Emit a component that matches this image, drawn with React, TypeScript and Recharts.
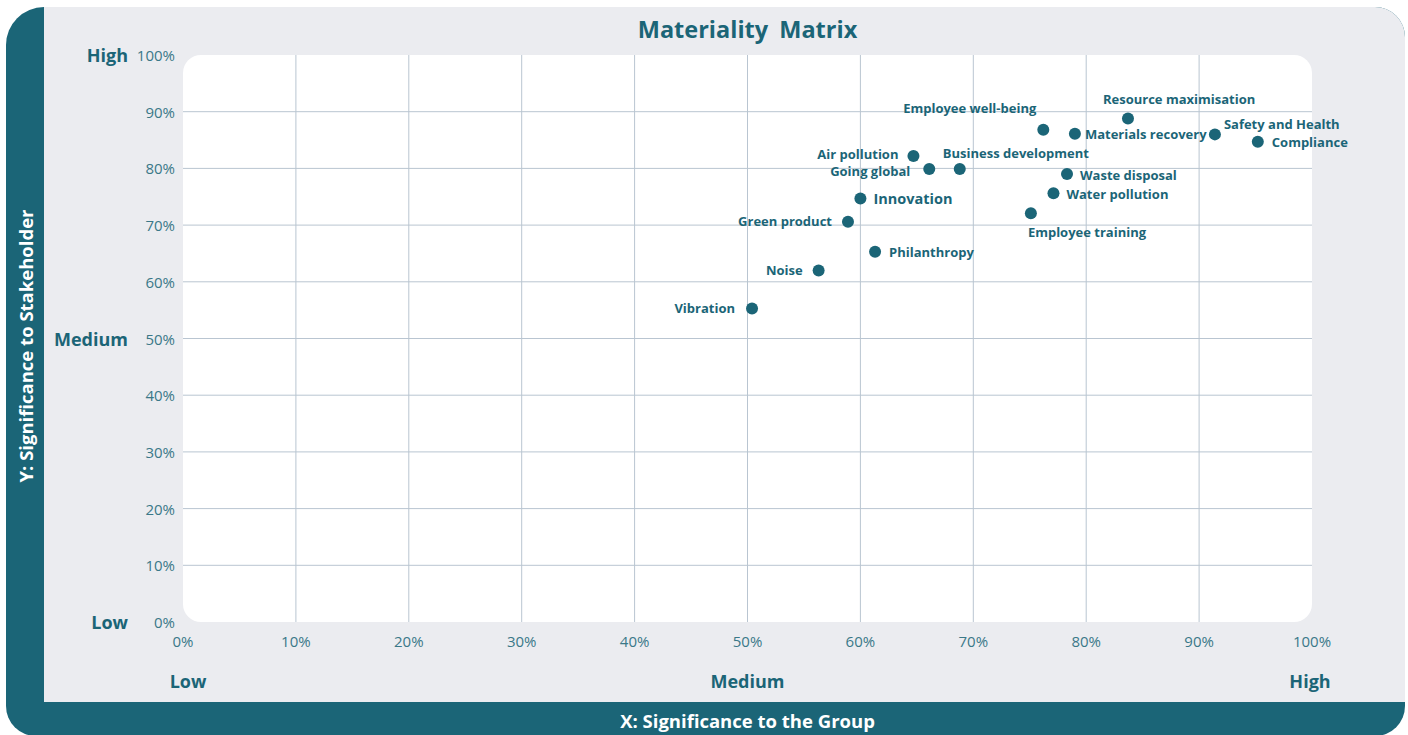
import React from "react";
import { ScatterChart, Scatter, XAxis, YAxis, ReferenceLine } from "recharts";

// ---------- data ----------
const topics = [
  "Employee well-being",
  "Resource maximisation",
  "Materials recovery",
  "Safety and Health",
  "Compliance",
  "Air pollution",
  "Going global",
  "Business development",
  "Innovation",
  "Green product",
  "Philanthropy",
  "Noise",
  "Vibration",
  "Employee training",
  "Waste disposal",
  "Water pollution",
];
const groupSignificance = [76.2, 83.7, 79.0, 91.4, 95.2, 64.7, 66.1, 68.8, 60.0, 58.9, 61.3, 56.3, 50.4, 75.1, 78.3, 77.1];
const stakeholderSignificance = [86.8, 88.8, 86.1, 86.0, 84.7, 82.2, 79.9, 79.9, 74.7, 70.6, 65.3, 62.0, 55.3, 72.1, 79.0, 75.6];
const axisTicks = [0, 10, 20, 30, 40, 50, 60, 70, 80, 90, 100];
const gridTicks = [10, 20, 30, 40, 50, 60, 70, 80, 90];
const levelLabels: Record<number, string> = { 0: "Low", 50: "Medium", 100: "High" };

// ---------- label placement (styling, not data) ----------
const placement: Record<string, { dx: number; dy: number; anchor: "start" | "end"; size?: number }> = {
  "Employee well-being": { dx: -7, dy: -22, anchor: "end" },
  "Resource maximisation": { dx: -25, dy: -20, anchor: "start" },
  "Materials recovery": { dx: 10, dy: 0, anchor: "start" },
  "Safety and Health": { dx: 9, dy: -10, anchor: "start" },
  Compliance: { dx: 14, dy: 0, anchor: "start" },
  "Air pollution": { dx: -15, dy: -2, anchor: "end" },
  "Going global": { dx: -19, dy: 2, anchor: "end" },
  "Business development": { dx: -17, dy: -16, anchor: "start" },
  Innovation: { dx: 13, dy: 0, anchor: "start", size: 14.5 },
  "Green product": { dx: -16, dy: -1, anchor: "end" },
  Philanthropy: { dx: 14, dy: 0, anchor: "start" },
  Noise: { dx: -16, dy: 0, anchor: "end" },
  Vibration: { dx: -17, dy: 0, anchor: "end" },
  "Employee training": { dx: -3, dy: 19, anchor: "start" },
  "Waste disposal": { dx: 13, dy: 1, anchor: "start" },
  "Water pollution": { dx: 13, dy: 1, anchor: "start" },
};

const data = topics.map((name, i) => ({ name, x: groupSignificance[i], y: stakeholderSignificance[i] }));

// ---------- style ----------
const TEAL = "#1b6577";
const TICK = "#3a7888";
const GREY = "#ebecf0";
const GRID = "#b9c5d1";
const FONT = "'Open Sans', 'Noto Sans', sans-serif";

const W = 1408;
const H = 735;
const PL = 183, PR = 1312, PT = 55, PB = 622;

const PointShape = (props: any) => {
  const { cx, cy, payload } = props;
  const p = placement[payload.name] || { dx: 12, dy: 0, anchor: "start" };
  return (
    <g>
      <circle cx={cx} cy={cy} r={6} fill={TEAL} />
      <text
        x={cx + p.dx}
        y={cy + p.dy}
        textAnchor={p.anchor}
        dominantBaseline="central"
        fill={TEAL}
        fontFamily={FONT}
        fontWeight={700}
        fontSize={p.size || 13}
      >
        {payload.name}
      </text>
    </g>
  );
};

const YTick = (props: any) => {
  const { x, y, payload } = props;
  const lvl = levelLabels[payload.value];
  return (
    <g>
      <text x={x} y={y} textAnchor="end" dominantBaseline="central" fill={TICK} fontFamily={FONT} fontSize={15}>
        {payload.value}%
      </text>
      {lvl && (
        <text x={x - 47} y={y} textAnchor="end" dominantBaseline="central" fill={TEAL} fontFamily={FONT} fontWeight={700} fontSize={18}>
          {lvl}
        </text>
      )}
    </g>
  );
};

const XTick = (props: any) => {
  const { x, y, payload } = props;
  const lvl = levelLabels[payload.value];
  const shift = payload.value === 0 ? 5 : payload.value === 100 ? -2 : 0;
  return (
    <g>
      <text x={x} y={y + 9} textAnchor="middle" dominantBaseline="central" fill={TICK} fontFamily={FONT} fontSize={15}>
        {payload.value}%
      </text>
      {lvl && (
        <text x={x + shift} y={y + 49} textAnchor="middle" dominantBaseline="central" fill={TEAL} fontFamily={FONT} fontWeight={700} fontSize={18}>
          {lvl}
        </text>
      )}
    </g>
  );
};

export default function App() {
  return (
    <div style={{ position: "absolute", left: 0, top: 0, width: W, height: H, overflow: "hidden", background: "#fff", fontFamily: FONT }}>
      {/* outer teal frame */}
      <div style={{ position: "absolute", left: 6, top: 7, width: 1399, height: 729, background: TEAL, borderRadius: "38px 30px 30px 30px" }} />
      {/* grey panel */}
      <div style={{ position: "absolute", left: 44, top: 7, width: 1361, height: 695, background: GREY, borderTopRightRadius: 30 }} />
      {/* white plot area */}
      <div style={{ position: "absolute", left: PL, top: PT, width: PR - PL, height: PB - PT, background: "#fff", borderRadius: 18 }} />
      {/* title */}
      <div style={{ position: "absolute", left: 0, width: 1495, top: 13, textAlign: "center", fontSize: 23.5, fontWeight: 700, color: TEAL, wordSpacing: 5, lineHeight: "32px" }}>
        Materiality Matrix
      </div>
      {/* x axis title */}
      <div style={{ position: "absolute", left: 0, width: 1495, top: 708, textAlign: "center", fontSize: 18.5, fontWeight: 700, color: "#fff", lineHeight: "26px" }}>
        X: Significance to the Group
      </div>
      {/* y axis title */}
      <div
        style={{
          position: "absolute",
          left: 25.5 - 150,
          top: 346 - 13,
          width: 300,
          textAlign: "center",
          fontSize: 18.5,
          fontWeight: 700,
          color: "#fff",
          lineHeight: "26px",
          transform: "rotate(-90deg)",
        }}
      >
        Y: Significance to Stakeholder
      </div>
      <div style={{ position: "absolute", left: 0, top: 0 }}>
        <ScatterChart width={W} height={H} margin={{ top: PT, right: W - PR, bottom: H - PB - 30, left: PL - 60 }}>
          <XAxis
            type="number"
            dataKey="x"
            domain={[0, 100]}
            ticks={axisTicks}
            interval={0}
            axisLine={false}
            tickLine={false}
            tickSize={0}
            tickMargin={10}
            height={30}
            tick={<XTick />}
          />
          <YAxis
            type="number"
            dataKey="y"
            domain={[0, 100]}
            ticks={axisTicks}
            interval={0}
            axisLine={false}
            tickLine={false}
            tickSize={0}
            tickMargin={8}
            width={60}
            tick={<YTick />}
          />
          {gridTicks.map((v) => (
            <ReferenceLine key={"vx" + v} x={v} stroke={GRID} strokeWidth={1} />
          ))}
          {gridTicks.map((v) => (
            <ReferenceLine key={"hy" + v} y={v} stroke={GRID} strokeWidth={1} />
          ))}
          <Scatter data={data} shape={<PointShape />} isAnimationActive={false} />
        </ScatterChart>
      </div>
    </div>
  );
}
